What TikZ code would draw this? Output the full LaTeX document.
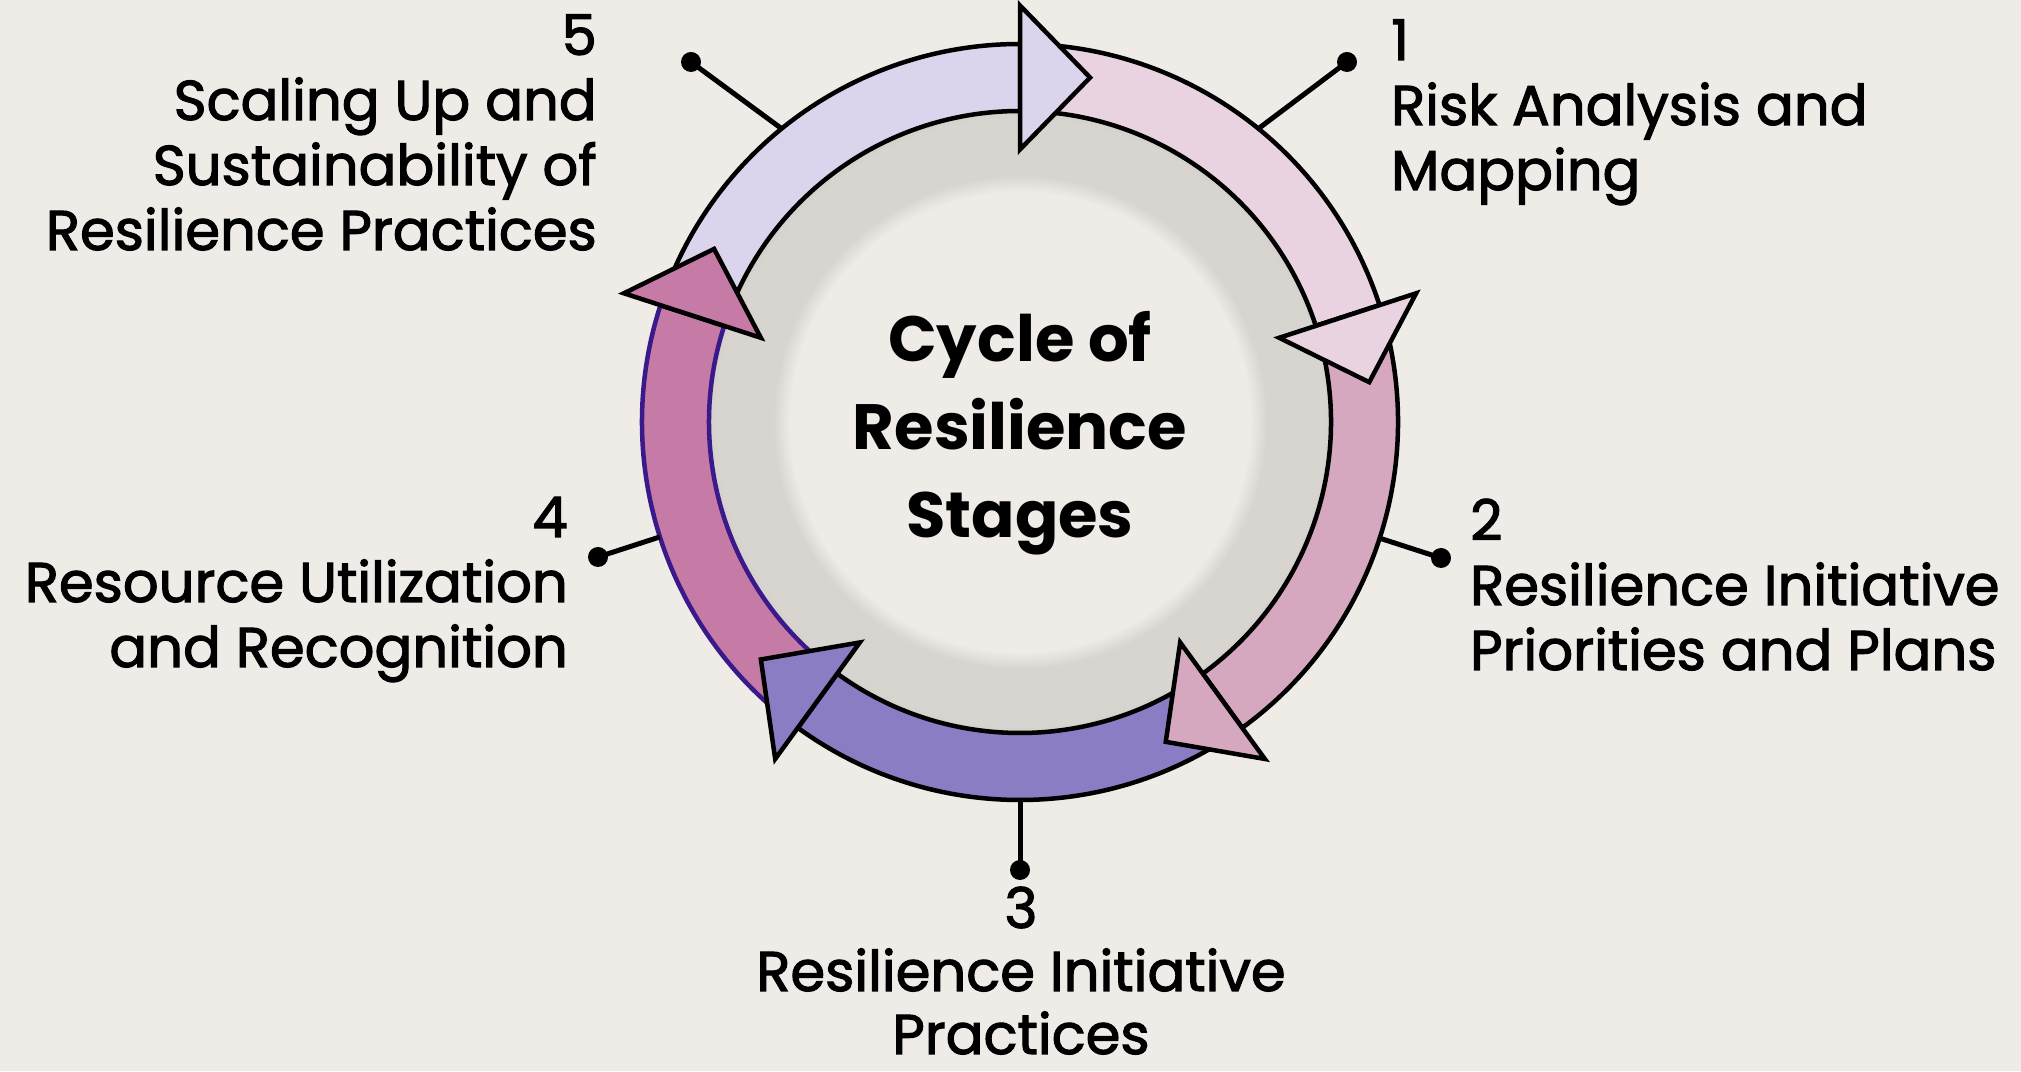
\documentclass[tikz,border=0pt]{standalone}
\usepackage{fontspec}
\setmainfont{Poppins}
\newfontfamily\lblfont{Poppins}[FakeBold=2]
\usetikzlibrary{calc}
\definecolor{bg}{HTML}{EFEBE6}
\definecolor{greyband}{HTML}{D8D4CF}
\definecolor{segA}{HTML}{E9D3E0}
\definecolor{segB}{HTML}{D6A8C0}
\definecolor{segC}{HTML}{8C7CC4}
\definecolor{segD}{HTML}{C67AA6}
\definecolor{segE}{HTML}{DCD4EC}
\definecolor{indigo}{HTML}{3A1A8A}
\pgfdeclareradialshading{hub}{\pgfpoint{0bp}{0bp}}{color(0bp)=(bg); color(17.4bp)=(bg); color(18.7bp)=(greyband); color(23bp)=(greyband); color(25bp)=(greyband!92!black)}
\newcommand{\ringseg}[4]{%
  \filldraw[fill=#1, draw=#4, line width=4.5pt, line join=round]
    ($(C)+(#2:378)$) arc[start angle=#2, end angle=#3, radius=378]
    -- ($(C)+(#3:311)$) arc[start angle=#3, end angle=#2, radius=311] -- cycle;}
\newcommand{\ringtip}[2]{%
  \filldraw[fill=#1, draw=black, line width=4.5pt, line join=miter]
    ($(C)+(#2:272.5)$) -- ($(C)+(#2:416.5)$) -- ($(C)+({#2-11.5}:351.5)$) -- cycle;}
\tikzset{
  lbl/.style={inner sep=0pt, font=\lblfont\fontsize{56}{65}\selectfont},
  hubtext/.style={inner sep=0pt, font=\fontsize{64}{88}\selectfont\bfseries},
  dotn/.style={circle, fill=black, inner sep=0pt, minimum size=20pt},
  conn/.style={line width=5pt, black}
}
\begin{document}
\begin{tikzpicture}[x=1pt,y=1pt]
\fill[bg] (0,0) rectangle (2021,1071);
\useasboundingbox (0,0) rectangle (2021,1071);
\coordinate (C) at (1020,649);
\shade[shading=hub] (C) circle[radius=330];
% ring bodies
\ringseg{segA}{90}{18}{black}
\ringseg{segB}{18}{-54}{black}
\ringseg{segC}{-54}{-126}{black}
\ringseg{segD}{-126}{-198}{indigo}
\ringseg{segE}{162}{90}{black}
% arrow tips
\ringtip{segA}{18}
\ringtip{segB}{-54}
\ringtip{segC}{-126}
\ringtip{segD}{162}
\ringtip{segE}{90}
% connectors
\coordinate (r1) at ($(C)+(50.9:378)$);
\coordinate (r2) at ($(C)+(-17.9:378)$);
\coordinate (r3) at ($(C)+(-90:378)$);
\coordinate (r4) at ($(C)+(197.7:378)$);
\coordinate (r5) at ($(C)+(129.1:378)$);
\node[dotn] (d1) at (1347,1009) {};
\node[dotn] (d2) at (1441,513) {};
\node[dotn] (d3) at (1020,201) {};
\node[dotn] (d4) at (598,514) {};
\node[dotn] (d5) at (691,1009) {};
\draw[conn] (r1) -- (d1.center);
\draw[conn] (r2) -- (d2.center);
\draw[conn] (r3) -- (d3.center);
\draw[conn] (r4) -- (d4.center);
\draw[conn] (r5) -- (d5.center);
% labels
\node[lbl, anchor=base west] (l1) at (1391,1011) {\begin{tabular}[t]{@{}l@{}}1\\Risk Analysis and\\Mapping\end{tabular}};
\node[lbl, anchor=base west] (l2) at (1470,531) {\begin{tabular}[t]{@{}l@{}}2\\Resilience Initiative\\Priorities and Plans\end{tabular}};
\node[lbl, anchor=base, font=\lblfont\fontsize{56}{63}\selectfont] (l3) at (1021,143) {\begin{tabular}[t]{@{}c@{}}3\\Resilience Initiative\\Practices\end{tabular}};
\node[lbl, anchor=base east] (l4) at (568,534) {\begin{tabular}[t]{@{}r@{}}4\\Resource Utilization\\and Recognition\end{tabular}};
\node[lbl, anchor=base east] (l5) at (597,1016) {\begin{tabular}[t]{@{}r@{}}5\\Scaling Up and\\Sustainability of\\Resilience Practices\end{tabular}};
\node[hubtext, anchor=base] (hub) at (1020,709) {\begin{tabular}[t]{@{}c@{}}Cycle of\\Resilience\\Stages\end{tabular}};
\end{tikzpicture}
\end{document}
